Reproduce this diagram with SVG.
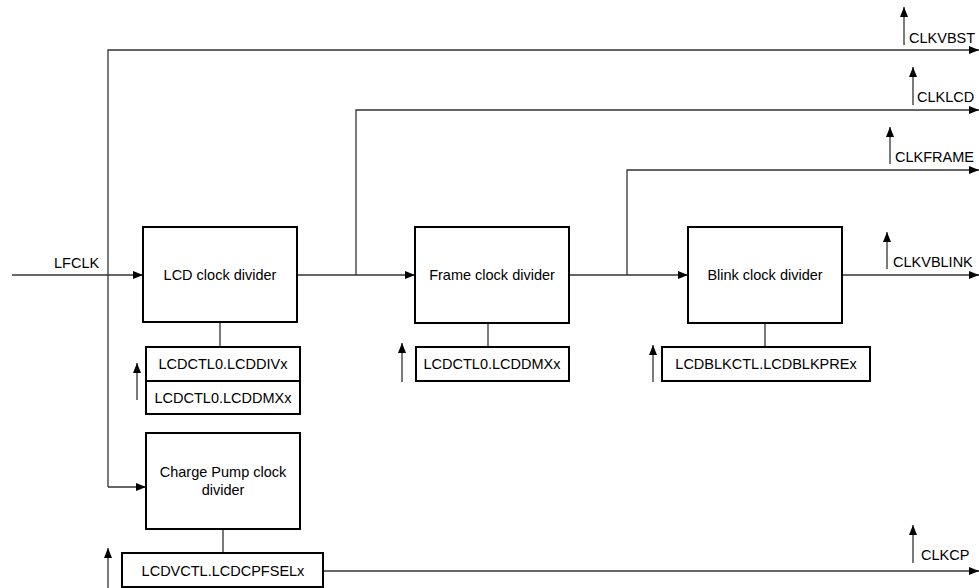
<svg xmlns="http://www.w3.org/2000/svg" width="979" height="588" viewBox="0 0 979 588">
<style>
.box{fill:#fff;stroke:#000;stroke-width:2}
.ln{fill:none;stroke:#333;stroke-width:1.3}
.t{font-family:"Liberation Sans",Arial,sans-serif;font-size:14.5px;fill:#000}
.c{text-anchor:middle}
</style>
<defs>
<marker id="ah" markerUnits="userSpaceOnUse" markerWidth="11" markerHeight="9" refX="10" refY="4" orient="auto">
<path d="M0,0 L10,4 L0,8 z" fill="#000"/>
</marker>
</defs>
<g id="connectors">
<path class="ln" d="M12,275 H143" marker-end="url(#ah)"/>
<path class="ln" d="M108,487 V50 H979" marker-end="url(#ah)"/>
<path class="ln" d="M108,487 H146" marker-end="url(#ah)"/>
<path class="ln" d="M297,275 H415" marker-end="url(#ah)"/>
<path class="ln" d="M356,275 V110 H979" marker-end="url(#ah)"/>
<path class="ln" d="M569,275 H688" marker-end="url(#ah)"/>
<path class="ln" d="M627,275 V170 H979" marker-end="url(#ah)"/>
<path class="ln" d="M842,275 H979" marker-end="url(#ah)"/>
<path class="ln" d="M323,571 H979" marker-end="url(#ah)"/>
<path class="ln" d="M220,322 V347"/>
<path class="ln" d="M488,323 V347"/>
<path class="ln" d="M765,323 V347"/>
<path class="ln" d="M223,529 V553"/>
<path class="ln" d="M904,45 V7" marker-end="url(#ah)"/>
<path class="ln" d="M913,105 V67" marker-end="url(#ah)"/>
<path class="ln" d="M890,164 V127" marker-end="url(#ah)"/>
<path class="ln" d="M887,269 V232" marker-end="url(#ah)"/>
<path class="ln" d="M913,563 V525" marker-end="url(#ah)"/>
<path class="ln" d="M137,400 V363" marker-end="url(#ah)"/>
<path class="ln" d="M402,382 V343" marker-end="url(#ah)"/>
<path class="ln" d="M653,382 V345" marker-end="url(#ah)"/>
<path class="ln" d="M108,588 V548" marker-end="url(#ah)"/>
</g>
<g id="labels">
<text class="t" x="54" y="268">LFCLK</text>
<text class="t" x="909" y="43">CLKVBST</text>
<text class="t" x="917" y="102">CLKLCD</text>
<text class="t" x="895" y="162">CLKFRAME</text>
<text class="t" x="893" y="267">CLKVBLINK</text>
<text class="t" x="921" y="560">CLKCP</text>
</g>
<g id="lcd-divider">
<rect class="box" x="143" y="227" width="154" height="95"/>
<text class="t c" x="220" y="280">LCD clock divider</text>
</g>
<g id="lcd-regs">
<rect class="box" x="146" y="347" width="154" height="67"/>
<line x1="146" y1="381" x2="300" y2="381" stroke="#000" stroke-width="2"/>
<text class="t c" x="223" y="369">LCDCTL0.LCDDIVx</text>
<text class="t c" x="223" y="403">LCDCTL0.LCDDMXx</text>
</g>
<g id="frame-divider">
<rect class="box" x="415" y="227" width="154" height="96"/>
<text class="t c" x="492" y="280">Frame clock divider</text>
</g>
<g id="frame-reg">
<rect class="box" x="416" y="347" width="153" height="34"/>
<text class="t c" x="492" y="369">LCDCTL0.LCDDMXx</text>
</g>
<g id="blink-divider">
<rect class="box" x="688" y="227" width="154" height="96"/>
<text class="t c" x="765" y="280">Blink clock divider</text>
</g>
<g id="blink-reg">
<rect class="box" x="662" y="347" width="208" height="34"/>
<text class="t c" x="766" y="369">LCDBLKCTL.LCDBLKPREx</text>
</g>
<g id="cp-divider">
<rect class="box" x="146" y="433" width="154" height="96"/>
<text class="t c" x="223" y="477">Charge Pump clock</text>
<text class="t c" x="223" y="495">divider</text>
</g>
<g id="cp-reg">
<rect class="box" x="122" y="553" width="201" height="34"/>
<text class="t c" x="223" y="576">LCDVCTL.LCDCPFSELx</text>
</g>
</svg>
